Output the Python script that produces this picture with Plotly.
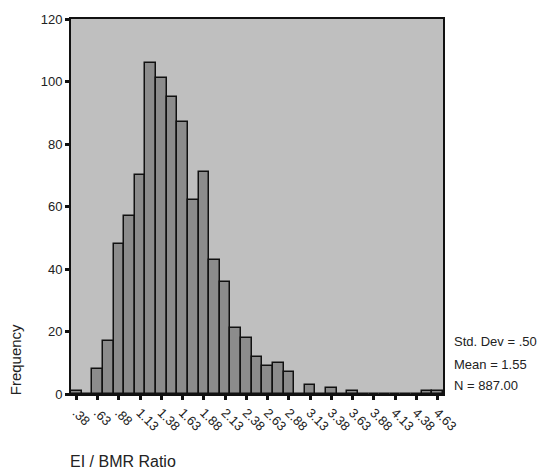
import plotly.graph_objects as go

# Histogram bins (centres, width 0.125) and frequencies
bin_centers = [0.375 + 0.125 * i for i in range(35)]
frequencies = [1, 0, 8, 17, 48, 57, 70, 106, 101, 95, 87, 62, 71, 43, 36, 21, 18,
               12, 9, 10, 7, 0, 3, 0, 2, 0, 1, 0, 0, 0, 0, 0, 0, 1, 1]
tick_values = [0.375 + 0.25 * i for i in range(18)]
tick_labels = [".38", ".63", ".88", "1.13", "1.38", "1.63", "1.88", "2.13", "2.38",
               "2.63", "2.88", "3.13", "3.38", "3.63", "3.88", "4.13", "4.38", "4.63"]
y_ticks = [0, 20, 40, 60, 80, 100, 120]
stats_lines = ["Std. Dev = .50", "Mean = 1.55", "N = 887.00"]

FONT = "Liberation Sans, Arial, sans-serif"

fig = go.Figure()
fig.add_trace(go.Bar(
    x=bin_centers, y=frequencies, width=0.125,
    marker=dict(color="#8c8c8c", line=dict(color="#111111", width=1.5)),
    hoverinfo="x+y",
))

fig.update_layout(
    width=539, height=472,
    margin=dict(l=71, r=96, t=16, b=78),
    paper_bgcolor="white",
    plot_bgcolor="#bfbfbf",
    showlegend=False,
    font=dict(family=FONT, size=13, color="#222222"),
    bargap=0,
)
fig.update_xaxes(
    range=[0.3125, 4.6875],
    tickmode="array", tickvals=tick_values, ticktext=tick_labels,
    tickangle=45, ticks="outside", ticklen=4, tickwidth=3, tickcolor="#111111",
    showline=True, linecolor="#111111", linewidth=2, mirror=True,
    showgrid=False, zeroline=False,
    tickfont=dict(family=FONT, size=13, color="#222222"),
)
fig.update_yaxes(
    range=[0, 120],
    tickmode="array", tickvals=y_ticks,
    ticks="outside", ticklen=4, tickwidth=3, tickcolor="#111111",
    showline=True, linecolor="#111111", linewidth=2, mirror=True,
    showgrid=False, zeroline=False,
    tickfont=dict(family=FONT, size=13, color="#222222"),
)

# Axis titles positioned as in the reference
fig.add_annotation(text="Frequency", xref="paper", yref="paper",
                   x=-0.1505, y=0.09, textangle=-90, showarrow=False,
                   xanchor="center", yanchor="middle",
                   font=dict(family=FONT, size=15, color="#222222"))
fig.add_annotation(text="EI / BMR Ratio", xref="paper", yref="paper",
                   x=-0.008, y=-0.179, showarrow=False,
                   xanchor="left", yanchor="middle",
                   font=dict(family=FONT, size=16, color="#222222"))

for txt, yp in zip(stats_lines, [0.141, 0.080, 0.022]):
    fig.add_annotation(text=txt, xref="paper", yref="paper",
                       x=1.024, y=yp, showarrow=False,
                       xanchor="left", yanchor="middle",
                       font=dict(family=FONT, size=13, color="#222222"))

fig.write_html("out.html", config={"displayModeBar": False},
               post_script="document.body.style.margin='0';document.body.style.overflow='hidden';")
